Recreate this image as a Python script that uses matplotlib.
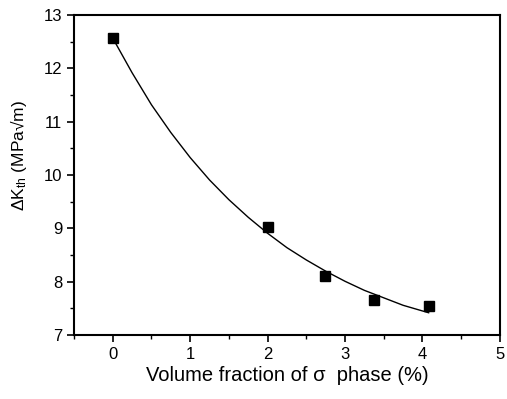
import matplotlib
matplotlib.use("Agg")
import matplotlib.pyplot as plt
from matplotlib.ticker import MultipleLocator

plt.rcParams['font.family'] = ['Liberation Sans', 'DejaVu Sans']
plt.rcParams['mathtext.default'] = 'regular'

# measured points
sigma_frac = [0.0, 2.0, 2.74, 3.38, 4.08]
dk_th = [12.57, 9.02, 8.11, 7.66, 7.55]

# fitted curve
fit_x = [0.0, 0.25, 0.5, 0.75, 1.0, 1.25, 1.5, 1.75, 2.0, 2.25, 2.5,
         2.75, 3.0, 3.25, 3.5, 3.75, 4.08]
fit_y = [12.57, 11.92, 11.32, 10.80, 10.33, 9.91, 9.54, 9.21, 8.91, 8.64,
         8.41, 8.20, 8.01, 7.84, 7.70, 7.56, 7.42]

fig = plt.figure(figsize=(5.07, 3.99), dpi=100)
ax = fig.add_axes([0.146, 0.160, 0.840, 0.802])

ax.plot(fit_x, fit_y, color='black', lw=1.0)
ax.plot(sigma_frac, dk_th, 's', color='black', markersize=7)

ax.set_xlim(-0.5, 5)
ax.set_ylim(7, 13)
ax.xaxis.set_major_locator(MultipleLocator(1))
ax.xaxis.set_minor_locator(MultipleLocator(0.5))
ax.yaxis.set_major_locator(MultipleLocator(1))
ax.yaxis.set_minor_locator(MultipleLocator(0.5))
ax.tick_params(which='major', direction='out', length=5, width=1.2, labelsize=12)
ax.tick_params(which='minor', direction='out', length=3, width=1.0)
ax.tick_params(top=False, right=False)
for s in ax.spines.values():
    s.set_linewidth(1.5)

ax.set_xlabel('Volume fraction of σ  phase (%)', fontsize=14.5, labelpad=3)
ax.set_ylabel('ΔK$_{th}$ (MPa√m)', fontsize=12.5)
ax.yaxis.set_label_coords(-0.105, 0.56)

fig.savefig('out.png', dpi=100)
